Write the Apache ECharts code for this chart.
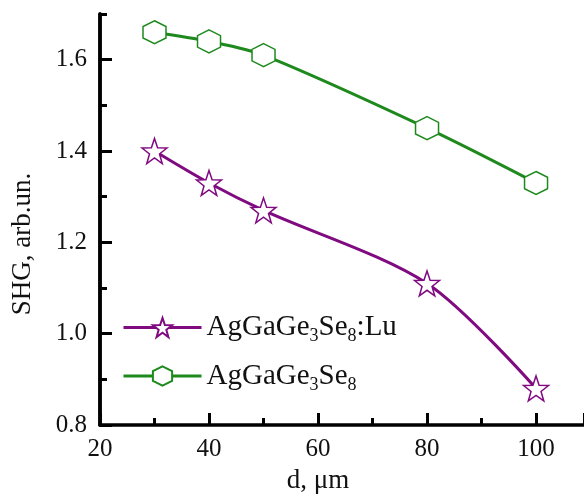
<!DOCTYPE html>
<html><head><meta charset="utf-8">
<script src="https://cdn.jsdelivr.net/npm/echarts@6/dist/echarts.min.js"></script>
<style>html,body{margin:0;padding:0;background:#fff}#c{width:584px;height:495px}</style>
</head><body><div id="c"></div>
<script>
const dValues = [30, 40, 50, 80, 100];
const shgLu = [1.40, 1.33, 1.27, 1.11, 0.88];
const shgPure = [1.66, 1.64, 1.61, 1.45, 1.33];
const xTicks = [20, 40, 60, 80, 100];
const yTicks = [0.8, 1.0, 1.2, 1.4, 1.6];
const seriesNames = ['AgGaGe3Se8:Lu', 'AgGaGe3Se8'];

const hexPath = 'path://M0,-10 L8.66,-5 L8.66,5 L0,10 L-8.66,5 L-8.66,-5 Z';
const starPath = 'path://M0,-10 L2.35,-3.24 L9.51,-3.09 L3.80,1.24 L5.88,8.09 L0,4 L-5.88,8.09 L-3.80,1.24 L-9.51,-3.09 L-2.35,-3.24 Z';
const FONT = '"Liberation Serif", "Times New Roman", serif';
const purple = '#800a80';
const green = '#1e8a1e';
const tickStyle = { width: 3, color: '#000' };
const Y_MAX = 1.7000001;

const chart = echarts.init(document.getElementById('c'));
chart.setOption({
  animation: false,
  grid: { left: 100, right: 0, top: 14, bottom: 70 },
  legend: {
    orient: 'vertical', left: 117, top: 308, itemGap: 16,
    itemWidth: 78, itemHeight: 24,
    data: seriesNames,
    lineStyle: { width: 3 },
    textStyle: {
      fontFamily: FONT, fontSize: 29, color: '#111',
      rich: {
        t: { fontFamily: FONT, fontSize: 29, color: '#111' },
        s: { fontFamily: FONT, fontSize: 18, color: '#111', padding: [18, 0, 0, 0] }
      }
    },
    formatter: function (n) {
      const p = n.split(/(\d)/);
      return p.filter(x => x !== '').map(x => /\d/.test(x) ? '{s|' + x + '}' : '{t|' + x + '}').join('');
    }
  },
  xAxis: {
    type: 'value', min: 20, max: 108.8, interval: 20,
    axisLine: { lineStyle: { color: '#000', width: 3.5 } },
    axisTick: { inside: true, length: 12, lineStyle: tickStyle },
    minorTick: { show: true, splitNumber: 2, length: 7, lineStyle: tickStyle },
    splitLine: { show: false },
    axisLabel: { fontFamily: FONT, fontSize: 25, color: '#111', margin: 12,
      customValues: xTicks }
  },
  yAxis: [{
    type: 'value', min: 0.8, max: Y_MAX, interval: 0.2,
    axisLine: { show: true, lineStyle: { color: '#000', width: 3.5 } },
    axisTick: { show: true, inside: true, length: 12, lineStyle: tickStyle, customValues: yTicks },
    minorTick: { show: false },
    splitLine: { show: false },
    axisLabel: { fontFamily: FONT, fontSize: 25, color: '#111', margin: 13,
      customValues: yTicks, formatter: v => v.toFixed(1) }
  }, {
    type: 'value', min: 0.8, max: Y_MAX, interval: 0.1, position: 'left',
    axisLine: { show: true, lineStyle: { color: '#000', width: 3.5 } },
    axisTick: { show: true, inside: true, length: 7, lineStyle: tickStyle },
    axisLabel: { show: false },
    splitLine: { show: false }
  }],
  graphic: [
    { type: 'text', x: 318, y: 481,
      style: { text: 'd, \u03bcm', font: '27px ' + FONT, fill: '#111', align: 'center', verticalAlign: 'middle' } },
    { type: 'text', x: 23, y: 244, rotation: Math.PI / 2,
      style: { text: 'SHG, arb.un.', font: '27px ' + FONT, fill: '#111', align: 'center', verticalAlign: 'middle' } }
  ],
  series: [
    {
      name: seriesNames[0], type: 'line', smooth: 0.3,
      data: dValues.map((d, i) => [d, shgLu[i]]),
      symbol: starPath, symbolSize: 25,
      lineStyle: { color: purple, width: 3 },
      itemStyle: { color: '#fff', borderColor: purple, borderWidth: 1.5 },
      z: 3
    },
    {
      name: seriesNames[1], type: 'line', smooth: 0.3,
      data: dValues.map((d, i) => [d, shgPure[i]]),
      symbol: hexPath, symbolSize: 23,
      lineStyle: { color: green, width: 3 },
      itemStyle: { color: '#fff', borderColor: green, borderWidth: 1.5 },
      z: 3
    }
  ]
});
</script></body></html>
